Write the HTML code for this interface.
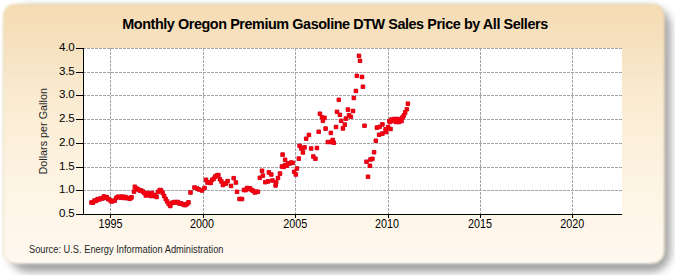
<!DOCTYPE html>
<html><head><meta charset="utf-8"><style>
html,body{margin:0;padding:0;width:675px;height:275px;overflow:hidden;background:#fff}
svg{display:block}
text{font-family:"Liberation Sans",sans-serif;fill:#000}
</style></head><body>
<svg width="675" height="275" viewBox="0 0 675 275">
<defs>
<linearGradient id="bg" x1="0" y1="0" x2="0" y2="1">
<stop offset="0" stop-color="#f6dcb3"/>
<stop offset="0.16" stop-color="#f6e1bf"/>
<stop offset="0.29" stop-color="#f8e8cc"/>
<stop offset="0.5" stop-color="#fcf0da"/>
<stop offset="0.76" stop-color="#fef5e6"/>
<stop offset="1" stop-color="#fff9f0"/>
</linearGradient>
<filter id="sh" x="-5%" y="-5%" width="110%" height="115%"><feGaussianBlur stdDeviation="4"/></filter>
<filter id="soft" x="-2%" y="-2%" width="104%" height="104%"><feGaussianBlur stdDeviation="1"/></filter>
</defs>
<rect x="9" y="7" width="661.5" height="265" rx="20" fill="#a0a0a0" filter="url(#sh)"/>
<g filter="url(#soft)">
<rect x="3" y="4" width="661.5" height="259.5" rx="12" fill="url(#bg)"/>
<rect x="3.5" y="4.5" width="660.5" height="258.5" rx="11.5" fill="none" stroke="#e6dab8" stroke-width="1" stroke-opacity="0.8"/>
<path d="M16 262.2H651" stroke="#fffdf8" stroke-width="2.2"/>
</g>
<rect x="83" y="48" width="539" height="166" fill="#fff"/>
<g stroke="#a4a4a4" stroke-width="1" stroke-dasharray="3 1" fill="none" shape-rendering="crispEdges"><path d="M83 48.5H622" /><path d="M83 72.5H622" /><path d="M83 95.5H622" /><path d="M83 119.5H622" /><path d="M83 143.5H622" /><path d="M83 167.5H622" /><path d="M83 190.5H622" /><path d="M110.5 48V214" /><path d="M203.5 48V214" /><path d="M295.5 48V214" /><path d="M388.5 48V214" /><path d="M480.5 48V214" /><path d="M572.5 48V214" /></g>
<g fill="#c4001c" stroke="#c4001c" stroke-width="0.8"><path d="M89.70 200.70h3.6v3.6h-3.6zM91.24 200.82h3.6v3.6h-3.6zM92.78 198.73h3.6v3.6h-3.6zM94.32 199.15h3.6v3.6h-3.6zM95.86 197.19h3.6v3.6h-3.6zM97.40 197.64h3.6v3.6h-3.6zM98.94 196.68h3.6v3.6h-3.6zM100.48 196.68h3.6v3.6h-3.6zM102.02 194.66h3.6v3.6h-3.6zM103.56 196.22h3.6v3.6h-3.6zM105.10 195.37h3.6v3.6h-3.6zM106.64 197.46h3.6v3.6h-3.6zM108.18 198.19h3.6v3.6h-3.6zM109.72 199.76h3.6v3.6h-3.6zM111.26 199.05h3.6v3.6h-3.6zM112.80 198.87h3.6v3.6h-3.6zM114.34 196.19h3.6v3.6h-3.6zM115.88 195.03h3.6v3.6h-3.6zM117.42 194.93h3.6v3.6h-3.6zM118.96 195.96h3.6v3.6h-3.6zM120.50 194.82h3.6v3.6h-3.6zM122.04 196.17h3.6v3.6h-3.6zM123.58 195.07h3.6v3.6h-3.6zM125.12 196.37h3.6v3.6h-3.6zM126.66 196.20h3.6v3.6h-3.6zM128.20 197.00h3.6v3.6h-3.6zM129.74 195.60h3.6v3.6h-3.6zM132.20 189.80h3.6v3.6h-3.6zM133.00 184.90h3.6v3.6h-3.6zM134.80 186.70h3.6v3.6h-3.6zM136.30 187.70h3.6v3.6h-3.6zM137.90 188.70h3.6v3.6h-3.6zM139.40 188.70h3.6v3.6h-3.6zM141.00 189.70h3.6v3.6h-3.6zM142.50 191.20h3.6v3.6h-3.6zM144.00 193.70h3.6v3.6h-3.6zM145.60 191.20h3.6v3.6h-3.6zM147.10 192.20h3.6v3.6h-3.6zM148.70 194.20h3.6v3.6h-3.6zM150.20 191.20h3.6v3.6h-3.6zM151.80 194.20h3.6v3.6h-3.6zM153.30 193.20h3.6v3.6h-3.6zM154.80 195.20h3.6v3.6h-3.6zM156.20 190.20h3.6v3.6h-3.6zM157.90 188.20h3.6v3.6h-3.6zM159.40 188.70h3.6v3.6h-3.6zM160.90 191.20h3.6v3.6h-3.6zM162.40 194.20h3.6v3.6h-3.6zM163.90 197.20h3.6v3.6h-3.6zM165.40 199.70h3.6v3.6h-3.6zM166.90 202.20h3.6v3.6h-3.6zM168.50 204.20h3.6v3.6h-3.6zM170.00 201.20h3.6v3.6h-3.6zM171.50 200.70h3.6v3.6h-3.6zM173.00 200.20h3.6v3.6h-3.6zM174.60 200.70h3.6v3.6h-3.6zM176.10 200.20h3.6v3.6h-3.6zM177.60 201.70h3.6v3.6h-3.6zM179.20 201.70h3.6v3.6h-3.6zM180.70 202.20h3.6v3.6h-3.6zM182.20 203.20h3.6v3.6h-3.6zM183.80 203.20h3.6v3.6h-3.6zM185.30 202.20h3.6v3.6h-3.6zM186.70 200.60h3.6v3.6h-3.6zM188.70 190.70h3.6v3.6h-3.6zM192.70 185.70h3.6v3.6h-3.6zM195.20 186.70h3.6v3.6h-3.6zM197.20 187.70h3.6v3.6h-3.6zM200.20 188.70h3.6v3.6h-3.6zM202.70 186.20h3.6v3.6h-3.6zM204.20 177.90h3.6v3.6h-3.6zM205.74 180.73h3.6v3.6h-3.6zM207.28 180.46h3.6v3.6h-3.6zM208.82 181.19h3.6v3.6h-3.6zM210.36 178.10h3.6v3.6h-3.6zM211.90 176.94h3.6v3.6h-3.6zM213.44 174.78h3.6v3.6h-3.6zM214.98 173.82h3.6v3.6h-3.6zM216.52 173.24h3.6v3.6h-3.6zM218.06 177.42h3.6v3.6h-3.6zM219.60 179.65h3.6v3.6h-3.6zM221.14 183.21h3.6v3.6h-3.6zM222.68 181.88h3.6v3.6h-3.6zM224.22 181.68h3.6v3.6h-3.6zM225.76 179.35h3.6v3.6h-3.6zM229.30 184.10h3.6v3.6h-3.6zM231.90 176.40h3.6v3.6h-3.6zM234.10 180.70h3.6v3.6h-3.6zM235.20 190.00h3.6v3.6h-3.6zM237.70 197.20h3.6v3.6h-3.6zM240.20 197.20h3.6v3.6h-3.6zM242.20 188.20h3.6v3.6h-3.6zM243.74 188.31h3.6v3.6h-3.6zM245.28 186.21h3.6v3.6h-3.6zM246.82 187.18h3.6v3.6h-3.6zM248.36 186.57h3.6v3.6h-3.6zM249.90 188.36h3.6v3.6h-3.6zM251.44 188.97h3.6v3.6h-3.6zM252.98 190.74h3.6v3.6h-3.6zM254.52 189.90h3.6v3.6h-3.6zM256.06 190.02h3.6v3.6h-3.6zM258.00 176.00h3.6v3.6h-3.6zM260.20 168.90h3.6v3.6h-3.6zM261.10 173.80h3.6v3.6h-3.6zM263.50 180.40h3.6v3.6h-3.6zM266.20 179.60h3.6v3.6h-3.6zM267.00 170.60h3.6v3.6h-3.6zM269.50 172.70h3.6v3.6h-3.6zM270.60 178.70h3.6v3.6h-3.6zM273.80 183.60h3.6v3.6h-3.6zM274.40 180.40h3.6v3.6h-3.6zM276.20 176.20h3.6v3.6h-3.6zM278.20 171.80h3.6v3.6h-3.6zM280.20 164.70h3.6v3.6h-3.6zM281.74 165.04h3.6v3.6h-3.6zM283.28 163.18h3.6v3.6h-3.6zM284.82 163.81h3.6v3.6h-3.6zM286.36 161.63h3.6v3.6h-3.6zM287.90 161.70h3.6v3.6h-3.6zM289.44 160.79h3.6v3.6h-3.6zM290.98 161.07h3.6v3.6h-3.6zM280.80 152.80h3.6v3.6h-3.6zM283.30 157.90h3.6v3.6h-3.6zM292.40 170.00h3.6v3.6h-3.6zM294.00 172.70h3.6v3.6h-3.6zM295.10 166.70h3.6v3.6h-3.6zM297.00 156.80h3.6v3.6h-3.6zM297.80 144.00h3.6v3.6h-3.6zM299.50 146.70h3.6v3.6h-3.6zM301.10 150.60h3.6v3.6h-3.6zM302.70 145.60h3.6v3.6h-3.6zM304.40 136.90h3.6v3.6h-3.6zM307.10 133.10h3.6v3.6h-3.6zM309.30 146.70h3.6v3.6h-3.6zM311.50 154.70h3.6v3.6h-3.6zM313.60 156.90h3.6v3.6h-3.6zM315.10 146.20h3.6v3.6h-3.6zM316.90 129.90h3.6v3.6h-3.6zM318.10 111.90h3.6v3.6h-3.6zM320.20 115.40h3.6v3.6h-3.6zM322.70 116.10h3.6v3.6h-3.6zM321.10 119.00h3.6v3.6h-3.6zM323.80 126.80h3.6v3.6h-3.6zM326.00 140.20h3.6v3.6h-3.6zM329.00 131.10h3.6v3.6h-3.6zM329.30 140.20h3.6v3.6h-3.6zM330.90 138.20h3.6v3.6h-3.6zM332.00 140.90h3.6v3.6h-3.6zM334.20 125.20h3.6v3.6h-3.6zM335.20 110.00h3.6v3.6h-3.6zM338.10 113.00h3.6v3.6h-3.6zM337.00 98.00h3.6v3.6h-3.6zM339.40 119.00h3.6v3.6h-3.6zM341.10 126.60h3.6v3.6h-3.6zM343.00 122.80h3.6v3.6h-3.6zM344.10 116.80h3.6v3.6h-3.6zM346.10 107.80h3.6v3.6h-3.6zM347.20 113.60h3.6v3.6h-3.6zM349.00 115.00h3.6v3.6h-3.6zM351.20 109.20h3.6v3.6h-3.6zM352.00 96.20h3.6v3.6h-3.6zM354.10 89.10h3.6v3.6h-3.6zM355.00 74.00h3.6v3.6h-3.6zM357.20 54.00h3.6v3.6h-3.6zM358.20 59.00h3.6v3.6h-3.6zM360.20 75.10h3.6v3.6h-3.6zM361.10 84.90h3.6v3.6h-3.6zM362.70 123.90h3.6v3.6h-3.6zM364.70 159.90h3.6v3.6h-3.6zM366.20 174.90h3.6v3.6h-3.6zM368.10 163.90h3.6v3.6h-3.6zM368.70 157.70h3.6v3.6h-3.6zM370.60 157.00h3.6v3.6h-3.6zM372.30 150.50h3.6v3.6h-3.6zM374.00 138.90h3.6v3.6h-3.6zM375.10 125.80h3.6v3.6h-3.6zM377.80 125.00h3.6v3.6h-3.6zM380.60 122.60h3.6v3.6h-3.6zM377.30 132.90h3.6v3.6h-3.6zM380.60 131.80h3.6v3.6h-3.6zM383.80 127.50h3.6v3.6h-3.6zM384.40 130.20h3.6v3.6h-3.6zM386.30 125.30h3.6v3.6h-3.6zM387.60 119.30h3.6v3.6h-3.6zM388.20 120.20h3.6v3.6h-3.6zM388.70 127.20h3.6v3.6h-3.6zM389.70 117.70h3.6v3.6h-3.6zM391.20 119.20h3.6v3.6h-3.6zM392.70 117.20h3.6v3.6h-3.6zM394.20 120.20h3.6v3.6h-3.6zM395.70 117.20h3.6v3.6h-3.6zM397.20 120.20h3.6v3.6h-3.6zM398.70 117.70h3.6v3.6h-3.6zM399.70 119.20h3.6v3.6h-3.6zM400.70 115.70h3.6v3.6h-3.6zM402.00 113.70h3.6v3.6h-3.6zM403.40 110.60h3.6v3.6h-3.6zM405.00 107.40h3.6v3.6h-3.6zM406.10 101.90h3.6v3.6h-3.6z"/></g><g fill="#f4000e"><path d="M89.70 200.70h3.6v3.6h-3.6zM91.24 200.82h3.6v3.6h-3.6zM92.78 198.73h3.6v3.6h-3.6zM94.32 199.15h3.6v3.6h-3.6zM95.86 197.19h3.6v3.6h-3.6zM97.40 197.64h3.6v3.6h-3.6zM98.94 196.68h3.6v3.6h-3.6zM100.48 196.68h3.6v3.6h-3.6zM102.02 194.66h3.6v3.6h-3.6zM103.56 196.22h3.6v3.6h-3.6zM105.10 195.37h3.6v3.6h-3.6zM106.64 197.46h3.6v3.6h-3.6zM108.18 198.19h3.6v3.6h-3.6zM109.72 199.76h3.6v3.6h-3.6zM111.26 199.05h3.6v3.6h-3.6zM112.80 198.87h3.6v3.6h-3.6zM114.34 196.19h3.6v3.6h-3.6zM115.88 195.03h3.6v3.6h-3.6zM117.42 194.93h3.6v3.6h-3.6zM118.96 195.96h3.6v3.6h-3.6zM120.50 194.82h3.6v3.6h-3.6zM122.04 196.17h3.6v3.6h-3.6zM123.58 195.07h3.6v3.6h-3.6zM125.12 196.37h3.6v3.6h-3.6zM126.66 196.20h3.6v3.6h-3.6zM128.20 197.00h3.6v3.6h-3.6zM129.74 195.60h3.6v3.6h-3.6zM132.20 189.80h3.6v3.6h-3.6zM133.00 184.90h3.6v3.6h-3.6zM134.80 186.70h3.6v3.6h-3.6zM136.30 187.70h3.6v3.6h-3.6zM137.90 188.70h3.6v3.6h-3.6zM139.40 188.70h3.6v3.6h-3.6zM141.00 189.70h3.6v3.6h-3.6zM142.50 191.20h3.6v3.6h-3.6zM144.00 193.70h3.6v3.6h-3.6zM145.60 191.20h3.6v3.6h-3.6zM147.10 192.20h3.6v3.6h-3.6zM148.70 194.20h3.6v3.6h-3.6zM150.20 191.20h3.6v3.6h-3.6zM151.80 194.20h3.6v3.6h-3.6zM153.30 193.20h3.6v3.6h-3.6zM154.80 195.20h3.6v3.6h-3.6zM156.20 190.20h3.6v3.6h-3.6zM157.90 188.20h3.6v3.6h-3.6zM159.40 188.70h3.6v3.6h-3.6zM160.90 191.20h3.6v3.6h-3.6zM162.40 194.20h3.6v3.6h-3.6zM163.90 197.20h3.6v3.6h-3.6zM165.40 199.70h3.6v3.6h-3.6zM166.90 202.20h3.6v3.6h-3.6zM168.50 204.20h3.6v3.6h-3.6zM170.00 201.20h3.6v3.6h-3.6zM171.50 200.70h3.6v3.6h-3.6zM173.00 200.20h3.6v3.6h-3.6zM174.60 200.70h3.6v3.6h-3.6zM176.10 200.20h3.6v3.6h-3.6zM177.60 201.70h3.6v3.6h-3.6zM179.20 201.70h3.6v3.6h-3.6zM180.70 202.20h3.6v3.6h-3.6zM182.20 203.20h3.6v3.6h-3.6zM183.80 203.20h3.6v3.6h-3.6zM185.30 202.20h3.6v3.6h-3.6zM186.70 200.60h3.6v3.6h-3.6zM188.70 190.70h3.6v3.6h-3.6zM192.70 185.70h3.6v3.6h-3.6zM195.20 186.70h3.6v3.6h-3.6zM197.20 187.70h3.6v3.6h-3.6zM200.20 188.70h3.6v3.6h-3.6zM202.70 186.20h3.6v3.6h-3.6zM204.20 177.90h3.6v3.6h-3.6zM205.74 180.73h3.6v3.6h-3.6zM207.28 180.46h3.6v3.6h-3.6zM208.82 181.19h3.6v3.6h-3.6zM210.36 178.10h3.6v3.6h-3.6zM211.90 176.94h3.6v3.6h-3.6zM213.44 174.78h3.6v3.6h-3.6zM214.98 173.82h3.6v3.6h-3.6zM216.52 173.24h3.6v3.6h-3.6zM218.06 177.42h3.6v3.6h-3.6zM219.60 179.65h3.6v3.6h-3.6zM221.14 183.21h3.6v3.6h-3.6zM222.68 181.88h3.6v3.6h-3.6zM224.22 181.68h3.6v3.6h-3.6zM225.76 179.35h3.6v3.6h-3.6zM229.30 184.10h3.6v3.6h-3.6zM231.90 176.40h3.6v3.6h-3.6zM234.10 180.70h3.6v3.6h-3.6zM235.20 190.00h3.6v3.6h-3.6zM237.70 197.20h3.6v3.6h-3.6zM240.20 197.20h3.6v3.6h-3.6zM242.20 188.20h3.6v3.6h-3.6zM243.74 188.31h3.6v3.6h-3.6zM245.28 186.21h3.6v3.6h-3.6zM246.82 187.18h3.6v3.6h-3.6zM248.36 186.57h3.6v3.6h-3.6zM249.90 188.36h3.6v3.6h-3.6zM251.44 188.97h3.6v3.6h-3.6zM252.98 190.74h3.6v3.6h-3.6zM254.52 189.90h3.6v3.6h-3.6zM256.06 190.02h3.6v3.6h-3.6zM258.00 176.00h3.6v3.6h-3.6zM260.20 168.90h3.6v3.6h-3.6zM261.10 173.80h3.6v3.6h-3.6zM263.50 180.40h3.6v3.6h-3.6zM266.20 179.60h3.6v3.6h-3.6zM267.00 170.60h3.6v3.6h-3.6zM269.50 172.70h3.6v3.6h-3.6zM270.60 178.70h3.6v3.6h-3.6zM273.80 183.60h3.6v3.6h-3.6zM274.40 180.40h3.6v3.6h-3.6zM276.20 176.20h3.6v3.6h-3.6zM278.20 171.80h3.6v3.6h-3.6zM280.20 164.70h3.6v3.6h-3.6zM281.74 165.04h3.6v3.6h-3.6zM283.28 163.18h3.6v3.6h-3.6zM284.82 163.81h3.6v3.6h-3.6zM286.36 161.63h3.6v3.6h-3.6zM287.90 161.70h3.6v3.6h-3.6zM289.44 160.79h3.6v3.6h-3.6zM290.98 161.07h3.6v3.6h-3.6zM280.80 152.80h3.6v3.6h-3.6zM283.30 157.90h3.6v3.6h-3.6zM292.40 170.00h3.6v3.6h-3.6zM294.00 172.70h3.6v3.6h-3.6zM295.10 166.70h3.6v3.6h-3.6zM297.00 156.80h3.6v3.6h-3.6zM297.80 144.00h3.6v3.6h-3.6zM299.50 146.70h3.6v3.6h-3.6zM301.10 150.60h3.6v3.6h-3.6zM302.70 145.60h3.6v3.6h-3.6zM304.40 136.90h3.6v3.6h-3.6zM307.10 133.10h3.6v3.6h-3.6zM309.30 146.70h3.6v3.6h-3.6zM311.50 154.70h3.6v3.6h-3.6zM313.60 156.90h3.6v3.6h-3.6zM315.10 146.20h3.6v3.6h-3.6zM316.90 129.90h3.6v3.6h-3.6zM318.10 111.90h3.6v3.6h-3.6zM320.20 115.40h3.6v3.6h-3.6zM322.70 116.10h3.6v3.6h-3.6zM321.10 119.00h3.6v3.6h-3.6zM323.80 126.80h3.6v3.6h-3.6zM326.00 140.20h3.6v3.6h-3.6zM329.00 131.10h3.6v3.6h-3.6zM329.30 140.20h3.6v3.6h-3.6zM330.90 138.20h3.6v3.6h-3.6zM332.00 140.90h3.6v3.6h-3.6zM334.20 125.20h3.6v3.6h-3.6zM335.20 110.00h3.6v3.6h-3.6zM338.10 113.00h3.6v3.6h-3.6zM337.00 98.00h3.6v3.6h-3.6zM339.40 119.00h3.6v3.6h-3.6zM341.10 126.60h3.6v3.6h-3.6zM343.00 122.80h3.6v3.6h-3.6zM344.10 116.80h3.6v3.6h-3.6zM346.10 107.80h3.6v3.6h-3.6zM347.20 113.60h3.6v3.6h-3.6zM349.00 115.00h3.6v3.6h-3.6zM351.20 109.20h3.6v3.6h-3.6zM352.00 96.20h3.6v3.6h-3.6zM354.10 89.10h3.6v3.6h-3.6zM355.00 74.00h3.6v3.6h-3.6zM357.20 54.00h3.6v3.6h-3.6zM358.20 59.00h3.6v3.6h-3.6zM360.20 75.10h3.6v3.6h-3.6zM361.10 84.90h3.6v3.6h-3.6zM362.70 123.90h3.6v3.6h-3.6zM364.70 159.90h3.6v3.6h-3.6zM366.20 174.90h3.6v3.6h-3.6zM368.10 163.90h3.6v3.6h-3.6zM368.70 157.70h3.6v3.6h-3.6zM370.60 157.00h3.6v3.6h-3.6zM372.30 150.50h3.6v3.6h-3.6zM374.00 138.90h3.6v3.6h-3.6zM375.10 125.80h3.6v3.6h-3.6zM377.80 125.00h3.6v3.6h-3.6zM380.60 122.60h3.6v3.6h-3.6zM377.30 132.90h3.6v3.6h-3.6zM380.60 131.80h3.6v3.6h-3.6zM383.80 127.50h3.6v3.6h-3.6zM384.40 130.20h3.6v3.6h-3.6zM386.30 125.30h3.6v3.6h-3.6zM387.60 119.30h3.6v3.6h-3.6zM388.20 120.20h3.6v3.6h-3.6zM388.70 127.20h3.6v3.6h-3.6zM389.70 117.70h3.6v3.6h-3.6zM391.20 119.20h3.6v3.6h-3.6zM392.70 117.20h3.6v3.6h-3.6zM394.20 120.20h3.6v3.6h-3.6zM395.70 117.20h3.6v3.6h-3.6zM397.20 120.20h3.6v3.6h-3.6zM398.70 117.70h3.6v3.6h-3.6zM399.70 119.20h3.6v3.6h-3.6zM400.70 115.70h3.6v3.6h-3.6zM402.00 113.70h3.6v3.6h-3.6zM403.40 110.60h3.6v3.6h-3.6zM405.00 107.40h3.6v3.6h-3.6zM406.10 101.90h3.6v3.6h-3.6z"/></g>
<g stroke="#000" stroke-width="1" fill="none" shape-rendering="crispEdges">
<path d="M83.5 48V215"/><path d="M83 214.5H622"/><path d="M76 48.5H83"/><path d="M76 72.5H83"/><path d="M76 95.5H83"/><path d="M76 119.5H83"/><path d="M76 143.5H83"/><path d="M76 167.5H83"/><path d="M76 190.5H83"/><path d="M76 214.5H83"/><path d="M110.5 214V218"/><path d="M203.5 214V218"/><path d="M295.5 214V218"/><path d="M388.5 214V218"/><path d="M480.5 214V218"/><path d="M572.5 214V218"/></g>
<g font-size="11" style="fill:#1e1e1e"><text x="74.3" y="51.0" text-anchor="end" font-size="11.6" letter-spacing="-0.3">4.0</text><text x="74.3" y="75.0" text-anchor="end" font-size="11.6" letter-spacing="-0.3">3.5</text><text x="74.3" y="98.0" text-anchor="end" font-size="11.6" letter-spacing="-0.3">3.0</text><text x="74.3" y="122.0" text-anchor="end" font-size="11.6" letter-spacing="-0.3">2.5</text><text x="74.3" y="146.0" text-anchor="end" font-size="11.6" letter-spacing="-0.3">2.0</text><text x="74.3" y="170.0" text-anchor="end" font-size="11.6" letter-spacing="-0.3">1.5</text><text x="74.3" y="193.0" text-anchor="end" font-size="11.6" letter-spacing="-0.3">1.0</text><text x="74.3" y="217.0" text-anchor="end" font-size="11.6" letter-spacing="-0.3">0.5</text><text x="110.4" y="227.8" text-anchor="middle" font-size="12.4" textLength="24" lengthAdjust="spacingAndGlyphs">1995</text><text x="202.1" y="227.8" text-anchor="middle" font-size="12.4" textLength="24" lengthAdjust="spacingAndGlyphs">2000</text><text x="295.2" y="227.8" text-anchor="middle" font-size="12.4" textLength="24" lengthAdjust="spacingAndGlyphs">2005</text><text x="387.1" y="227.8" text-anchor="middle" font-size="12.4" textLength="24" lengthAdjust="spacingAndGlyphs">2010</text><text x="480" y="227.8" text-anchor="middle" font-size="12.4" textLength="24" lengthAdjust="spacingAndGlyphs">2015</text><text x="572.2" y="227.8" text-anchor="middle" font-size="12.4" textLength="24" lengthAdjust="spacingAndGlyphs">2020</text></g>
<text x="335" y="29" font-size="14.4" letter-spacing="-0.43" font-weight="bold" text-anchor="middle" style="fill:#000">Monthly Oregon Premium Gasoline DTW Sales Price by All Sellers</text>
<text transform="translate(47.2 131.3) rotate(-90)" font-size="10.8" style="fill:#1e1e1e" text-anchor="middle">Dollars per Gallon</text>
<text x="29" y="252.8" font-size="10" style="fill:#262626" textLength="194.5" lengthAdjust="spacingAndGlyphs">Source: U.S. Energy Information Administration</text>
</svg>
</body></html>
